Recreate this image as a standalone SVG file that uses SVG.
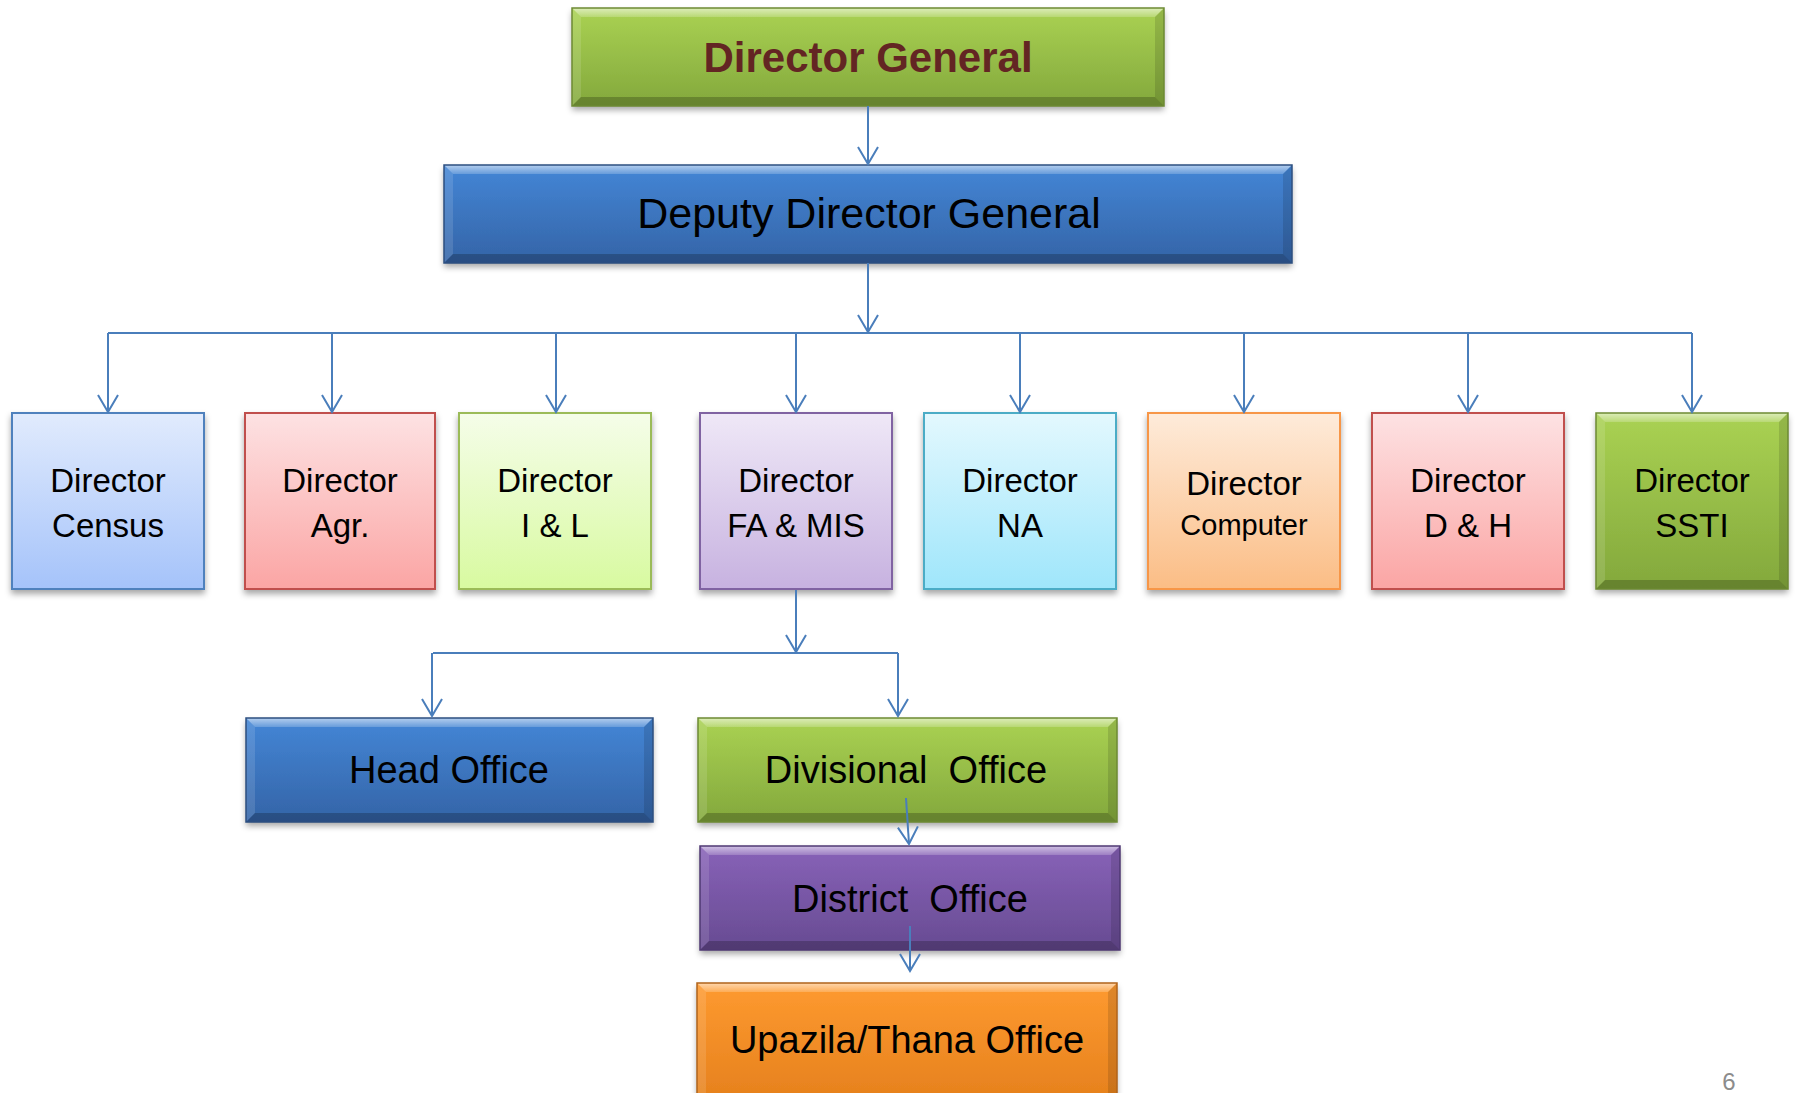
<svg xmlns="http://www.w3.org/2000/svg" width="1795" height="1093" viewBox="0 0 1795 1093">
<style>
text{font-family:"Liberation Sans",Arial,sans-serif;text-anchor:middle;fill:#000}
.dir{font-size:33px}
.big{font-size:38px}
.lbox{stroke-width:2;filter:url(#sh)}
.bt{fill:url(#topHi)}
.bl{fill:#fff;fill-opacity:.12}
.br{fill:#000;fill-opacity:.12}
.bb{fill:#000;fill-opacity:.22}
.bo{fill:none;stroke-width:1.5}
.con{fill:none;stroke:#4a7ebb;stroke-width:2}
</style>
<defs>
<filter id="sh" x="-10%" y="-10%" width="120%" height="130%">
<feDropShadow dx="0" dy="4" stdDeviation="3" flood-color="#000" flood-opacity="0.35"/>
</filter>
<linearGradient id="topHi" x1="0" y1="0" x2="0" y2="1"><stop offset="0" stop-color="#fff" stop-opacity="0.6"/><stop offset="1" stop-color="#fff" stop-opacity="0.2"/></linearGradient>
<linearGradient id="blueL" x1="0" y1="0" x2="0" y2="1"><stop offset="0" stop-color="#e1ebfd"/><stop offset="1" stop-color="#a5c3fa"/></linearGradient>
<linearGradient id="redL" x1="0" y1="0" x2="0" y2="1"><stop offset="0" stop-color="#fde2e3"/><stop offset="1" stop-color="#fba5a4"/></linearGradient>
<linearGradient id="greenL" x1="0" y1="0" x2="0" y2="1"><stop offset="0" stop-color="#f5fde9"/><stop offset="1" stop-color="#d8faa0"/></linearGradient>
<linearGradient id="purpleL" x1="0" y1="0" x2="0" y2="1"><stop offset="0" stop-color="#efe8f7"/><stop offset="1" stop-color="#c7b2e0"/></linearGradient>
<linearGradient id="cyanL" x1="0" y1="0" x2="0" y2="1"><stop offset="0" stop-color="#e3f8fe"/><stop offset="1" stop-color="#9fe6fb"/></linearGradient>
<linearGradient id="orangeL" x1="0" y1="0" x2="0" y2="1"><stop offset="0" stop-color="#feebda"/><stop offset="1" stop-color="#fbbd85"/></linearGradient>
<linearGradient id="greenB" x1="0" y1="0" x2="0" y2="1"><stop offset="0" stop-color="#aad253"/><stop offset="1" stop-color="#83a83c"/></linearGradient>
<linearGradient id="blueB" x1="0" y1="0" x2="0" y2="1"><stop offset="0" stop-color="#4486d6"/><stop offset="1" stop-color="#3464a7"/></linearGradient>
<linearGradient id="purpleB" x1="0" y1="0" x2="0" y2="1"><stop offset="0" stop-color="#8862b8"/><stop offset="1" stop-color="#674b92"/></linearGradient>
<linearGradient id="orangeB" x1="0" y1="0" x2="0" y2="1"><stop offset="0" stop-color="#fe9a30"/><stop offset="1" stop-color="#e37e1b"/></linearGradient>
<marker id="arr" markerUnits="userSpaceOnUse" markerWidth="22" markerHeight="24" viewBox="-19 -12 22 24" refX="0" refY="0" orient="auto" overflow="visible">
<path d="M-17,-10 L0,0 L-17,10" fill="none" stroke="#4a7ebb" stroke-width="2"/>
</marker>
</defs>

<g id="node-dg">
<rect x="572" y="8" width="592" height="98" fill="url(#greenB)" filter="url(#sh)"/>
<polygon class="bt" points="572,8 1164,8 1155,17 581,17"/>
<polygon class="bl" points="572,8 581,17 581,97 572,106"/>
<polygon class="br" points="1164,8 1164,106 1155,97 1155,17"/>
<polygon class="bb" points="572,106 1164,106 1155,97 581,97"/>
<rect class="bo" x="572" y="8" width="592" height="98" stroke="#6d8a33"/>
<text x="868" y="72" style="font-size:42px;font-weight:bold;fill:#632523">Director General</text>
</g>

<g id="node-ddg">
<rect x="444" y="165" width="848" height="98" fill="url(#blueB)" filter="url(#sh)"/>
<polygon class="bt" points="444,165 1292,165 1283,174 453,174"/>
<polygon class="bl" points="444,165 453,174 453,254 444,263"/>
<polygon class="br" points="1292,165 1292,263 1283,254 1283,174"/>
<polygon class="bb" points="444,263 1292,263 1283,254 453,254"/>
<rect class="bo" x="444" y="165" width="848" height="98" stroke="#2c4f80"/>
<text x="869" y="228" style="font-size:43px">Deputy Director General</text>
</g>

<g id="node-census">
<rect class="lbox" x="12" y="413" width="192" height="176" fill="url(#blueL)" stroke="#4f81bd"/>
<text class="dir" x="108" y="492">Director</text>
<text class="dir" x="108" y="537">Census</text>
</g>
<g id="node-agr">
<rect class="lbox" x="245" y="413" width="190" height="176" fill="url(#redL)" stroke="#c0504d"/>
<text class="dir" x="340" y="492">Director</text>
<text class="dir" x="340" y="537">Agr.</text>
</g>
<g id="node-il">
<rect class="lbox" x="459" y="413" width="192" height="176" fill="url(#greenL)" stroke="#9bbb59"/>
<text class="dir" x="555" y="492">Director</text>
<text class="dir" x="555" y="537">I &amp; L</text>
</g>
<g id="node-famis">
<rect class="lbox" x="700" y="413" width="192" height="176" fill="url(#purpleL)" stroke="#8064a2"/>
<text class="dir" x="796" y="492">Director</text>
<text class="dir" x="796" y="537">FA &amp; MIS</text>
</g>
<g id="node-na">
<rect class="lbox" x="924" y="413" width="192" height="176" fill="url(#cyanL)" stroke="#4bacc6"/>
<text class="dir" x="1020" y="492">Director</text>
<text class="dir" x="1020" y="537">NA</text>
</g>
<g id="node-computer">
<rect class="lbox" x="1148" y="413" width="192" height="176" fill="url(#orangeL)" stroke="#f79646"/>
<text class="dir" x="1244" y="495">Director</text>
<text x="1244" y="535" style="font-size:29px">Computer</text>
</g>
<g id="node-dh">
<rect class="lbox" x="1372" y="413" width="192" height="176" fill="url(#redL)" stroke="#c0504d"/>
<text class="dir" x="1468" y="492">Director</text>
<text class="dir" x="1468" y="537">D &amp; H</text>
</g>
<g id="node-ssti">
<rect x="1596" y="413" width="192" height="176" fill="url(#greenB)" filter="url(#sh)"/>
<polygon class="bt" points="1596,413 1788,413 1779,422 1605,422"/>
<polygon class="bl" points="1596,413 1605,422 1605,580 1596,589"/>
<polygon class="br" points="1788,413 1788,589 1779,580 1779,422"/>
<polygon class="bb" points="1596,589 1788,589 1779,580 1605,580"/>
<rect class="bo" x="1596" y="413" width="192" height="176" stroke="#6d8a33"/>
<text class="dir" x="1692" y="492">Director</text>
<text class="dir" x="1692" y="537">SSTI</text>
</g>

<g id="node-head">
<rect x="246" y="718" width="407" height="104" fill="url(#blueB)" filter="url(#sh)"/>
<polygon class="bt" points="246,718 653,718 644,727 255,727"/>
<polygon class="bl" points="246,718 255,727 255,813 246,822"/>
<polygon class="br" points="653,718 653,822 644,813 644,727"/>
<polygon class="bb" points="246,822 653,822 644,813 255,813"/>
<rect class="bo" x="246" y="718" width="407" height="104" stroke="#2c4f80"/>
<text class="big" x="449" y="783">Head Office</text>
</g>

<g id="node-divisional">
<rect x="698" y="718" width="419" height="104" fill="url(#greenB)" filter="url(#sh)"/>
<polygon class="bt" points="698,718 1117,718 1108,727 707,727"/>
<polygon class="bl" points="698,718 707,727 707,813 698,822"/>
<polygon class="br" points="1117,718 1117,822 1108,813 1108,727"/>
<polygon class="bb" points="698,822 1117,822 1108,813 707,813"/>
<rect class="bo" x="698" y="718" width="419" height="104" stroke="#6d8a33"/>
<text class="big" x="906" y="783" xml:space="preserve">Divisional  Office</text>
</g>

<g id="node-district">
<rect x="700" y="846" width="420" height="104" fill="url(#purpleB)" filter="url(#sh)"/>
<polygon class="bt" points="700,846 1120,846 1111,855 709,855"/>
<polygon class="bl" points="700,846 709,855 709,941 700,950"/>
<polygon class="br" points="1120,846 1120,950 1111,941 1111,855"/>
<polygon class="bb" points="700,950 1120,950 1111,941 709,941"/>
<rect class="bo" x="700" y="846" width="420" height="104" stroke="#4f3973"/>
<text class="big" x="910" y="912" xml:space="preserve">District  Office</text>
</g>

<g id="node-upazila">
<rect x="697" y="983" width="420" height="130" fill="url(#orangeB)" filter="url(#sh)"/>
<polygon class="bt" points="697,983 1117,983 1108,992 706,992"/>
<polygon class="bl" points="697,983 706,992 706,1104 697,1113"/>
<polygon class="br" points="1117,983 1117,1113 1108,1104 1108,992"/>
<polygon class="bb" points="697,1113 1117,1113 1108,1104 706,1104"/>
<rect class="bo" x="697" y="983" width="420" height="130" stroke="#b0631a"/>
<text class="big" x="907" y="1053">Upazila/Thana Office</text>
</g>

<g id="connectors">
<path class="con" d="M868,106 V164" marker-end="url(#arr)"/>
<path class="con" d="M868,263 V332" marker-end="url(#arr)"/>
<path class="con" d="M108,333 H1692"/>
<path class="con" d="M108,333 V412" marker-end="url(#arr)"/>
<path class="con" d="M332,333 V412" marker-end="url(#arr)"/>
<path class="con" d="M556,333 V412" marker-end="url(#arr)"/>
<path class="con" d="M796,333 V412" marker-end="url(#arr)"/>
<path class="con" d="M1020,333 V412" marker-end="url(#arr)"/>
<path class="con" d="M1244,333 V412" marker-end="url(#arr)"/>
<path class="con" d="M1468,333 V412" marker-end="url(#arr)"/>
<path class="con" d="M1692,333 V412" marker-end="url(#arr)"/>
<path class="con" d="M796,590 V652" marker-end="url(#arr)"/>
<path class="con" d="M433,653 H898"/>
<path class="con" d="M432,653 V716" marker-end="url(#arr)"/>
<path class="con" d="M898,653 V716" marker-end="url(#arr)"/>
<path class="con" d="M906,798 L909,844" marker-end="url(#arr)"/>
<path class="con" d="M910,926 V971" marker-end="url(#arr)"/>
</g>

<text id="page-number" x="1729" y="1090" style="font-size:24px;fill:#8c8c8c">6</text>
</svg>
